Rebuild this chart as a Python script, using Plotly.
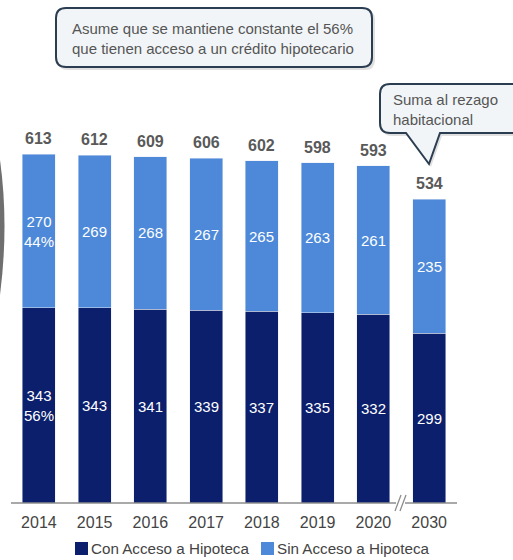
import plotly.graph_objects as go

years = ["2014", "2015", "2016", "2017", "2018", "2019", "2020", "2030"]
con_acceso = [343, 343, 341, 339, 337, 335, 332, 299]
sin_acceso = [270, 269, 268, 267, 265, 263, 261, 235]
pct_con = ["56%", "", "", "", "", "", "", ""]
pct_sin = ["44%", "", "", "", "", "", "", ""]
series_names = ["Con Acceso a Hipoteca", "Sin Acceso a Hipoteca"]
totals = [c + s for c, s in zip(con_acceso, sin_acceso)]

DARK = "#0c1f6c"
LIGHT = "#4d89d8"
FONT = "Liberation Sans, Arial, sans-serif"

W, H = 513, 560
L, R, T, B = 11, 56, 105, 57
PW, PH = W - L - R, H - T - B


def px(x, y):
    return (x - L) / PW, (H - B - y) / PH


def lab(v, p):
    return f"{v}<br>{p}" if p else f"{v}"


fig = go.Figure()
fig.add_trace(go.Bar(x=years, y=con_acceso, name=series_names[0], marker_color=DARK,
                     hoverinfo="skip", showlegend=False))
fig.add_trace(go.Bar(x=years, y=sin_acceso, name=series_names[1], marker_color=LIGHT,
                     hoverinfo="skip", showlegend=False))

annotations = []
for i, (c, s, pc, ps) in enumerate(zip(con_acceso, sin_acceso, pct_con, pct_sin)):
    annotations.append(dict(x=i, y=c / 2, xref="x", yref="y", text=lab(c, pc), showarrow=False,
                            font=dict(size=15, color="white", family=FONT)))
    annotations.append(dict(x=i, y=c + s / 2, xref="x", yref="y", text=lab(s, ps), showarrow=False,
                            font=dict(size=15, color="white", family=FONT)))
for i, t in enumerate(totals):
    annotations.append(dict(x=i, y=t, xref="x", yref="y", text=f"<b>{t}</b>", showarrow=False,
                            yanchor="bottom", yshift=5,
                            font=dict(size=16, color="#595959", family=FONT)))

shapes = []

# legend
for (sx, tx), name, col in zip(((75, 89), (261, 275)), series_names, (DARK, LIGHT)):
    q0, q1 = px(sx, 555), px(sx + 13, 542)
    shapes.append(dict(type="rect", xref="paper", yref="paper", x0=q0[0], y0=q0[1],
                       x1=q1[0], y1=q1[1], fillcolor=col, line=dict(width=0)))
    tpos = px(tx, 548)
    annotations.append(dict(xref="paper", yref="paper", x=tpos[0], y=tpos[1], showarrow=False,
                            xanchor="left", yanchor="middle", text=name,
                            font=dict(size=15.2, color="#444444", family=FONT)))


def rounded_path(x0, y0, x1, y1, r, tail=None):
    a = px
    s = f"M {a(x0+r,y0)[0]},{a(x0+r,y0)[1]} L {a(x1-r,y0)[0]},{a(x1-r,y0)[1]} "
    s += f"Q {a(x1,y0)[0]},{a(x1,y0)[1]} {a(x1,y0+r)[0]},{a(x1,y0+r)[1]} "
    s += f"L {a(x1,y1-r)[0]},{a(x1,y1-r)[1]} "
    s += f"Q {a(x1,y1)[0]},{a(x1,y1)[1]} {a(x1-r,y1)[0]},{a(x1-r,y1)[1]} "
    if tail:
        (bx1, bx0, tx, ty) = tail
        s += f"L {a(bx1,y1)[0]},{a(bx1,y1)[1]} L {a(tx,ty)[0]},{a(tx,ty)[1]} L {a(bx0,y1)[0]},{a(bx0,y1)[1]} "
    s += f"L {a(x0+r,y1)[0]},{a(x0+r,y1)[1]} "
    s += f"Q {a(x0,y1)[0]},{a(x0,y1)[1]} {a(x0,y1-r)[0]},{a(x0,y1-r)[1]} "
    s += f"L {a(x0,y0+r)[0]},{a(x0,y0+r)[1]} "
    s += f"Q {a(x0,y0)[0]},{a(x0,y0)[1]} {a(x0+r,y0)[0]},{a(x0+r,y0)[1]} Z"
    return s


shapes.append(dict(type="path", xref="paper", yref="paper",
                   path=rounded_path(58, 10, 375, 70, 10),
                   fillcolor="rgba(0,0,0,0.12)", line=dict(width=0), layer="above"))
shapes.append(dict(type="path", xref="paper", yref="paper",
                   path=rounded_path(56, 8, 372, 67, 10),
                   fillcolor="#f2f5f8", line=dict(color="#2b3d50", width=2), layer="above"))
shapes.append(dict(type="path", xref="paper", yref="paper",
                   path=rounded_path(382, 87, 530, 136, 10, tail=(442, 408, 431, 167)),
                   fillcolor="rgba(0,0,0,0.12)", line=dict(width=0), layer="above"))
shapes.append(dict(type="path", xref="paper", yref="paper",
                   path=rounded_path(380, 84, 528, 133, 10, tail=(440, 406, 429, 164)),
                   fillcolor="#f2f5f8", line=dict(color="#2b3d50", width=2), layer="above"))

c1x, c1y = px(213, 38)
annotations.append(dict(xref="paper", yref="paper", x=c1x, y=c1y, showarrow=False,
                        xanchor="center", yanchor="middle", align="left",
                        text="Asume que se mantiene constante el 56%<br>que tienen acceso a un crédito hipotecario",
                        font=dict(size=15, color="#555555", family=FONT)))
c2x, c2y = px(391, 109)
annotations.append(dict(xref="paper", yref="paper", x=c2x, y=c2y, showarrow=False,
                        xanchor="left", yanchor="middle", align="left",
                        text="Suma al rezago<br>habitacional",
                        font=dict(size=15, color="#555555", family=FONT)))

# left gray chevron edge
p0, p1, p2, p3 = px(0, 160), px(9, 225), px(0, 295), px(-5, 225)
shapes.append(dict(type="path", xref="paper", yref="paper",
                   path=f"M {p0[0]},{p0[1]} Q {p1[0]},{p1[1]} {p2[0]},{p2[1]} L {p2[0]},{p2[1]} Q {p3[0]},{p3[1]} {p0[0]},{p0[1]} Z",
                   fillcolor="#6f6f6f", line=dict(width=0), layer="above"))

# axis line with break
a0, a1 = px(L, 503), px(396, 503)
b0, b1 = px(405, 503), px(L + PW, 503)
for u, v in ((a0, a1), (b0, b1)):
    shapes.append(dict(type="line", xref="paper", yref="paper", x0=u[0], y0=u[1],
                       x1=v[0], y1=v[1], line=dict(color="#8c8c8c", width=1.5), layer="above"))
for dx in (0, 5):
    s0, s1 = px(395 + dx, 511), px(401 + dx, 495)
    shapes.append(dict(type="line", xref="paper", yref="paper", x0=s0[0], y0=s0[1],
                       x1=s1[0], y1=s1[1], line=dict(color="#8c8c8c", width=1.3), layer="above"))

fig.update_layout(
    width=W, height=H, margin=dict(l=L, r=R, t=T, b=B),
    barmode="stack", bargap=0.41,
    paper_bgcolor="white", plot_bgcolor="white",
    font=dict(family=FONT),
    xaxis=dict(type="category", showline=False, showgrid=False, zeroline=False,
               ticks="", ticklabelstandoff=8,
               tickfont=dict(size=16, color="#444444", family=FONT),
               range=[-0.5, 7.5], fixedrange=True),
    yaxis=dict(range=[0, 700], showticklabels=False, showgrid=False,
               zeroline=False, showline=False, fixedrange=True),
    annotations=annotations, shapes=shapes, showlegend=False,
)

fig.write_html("out.html")
